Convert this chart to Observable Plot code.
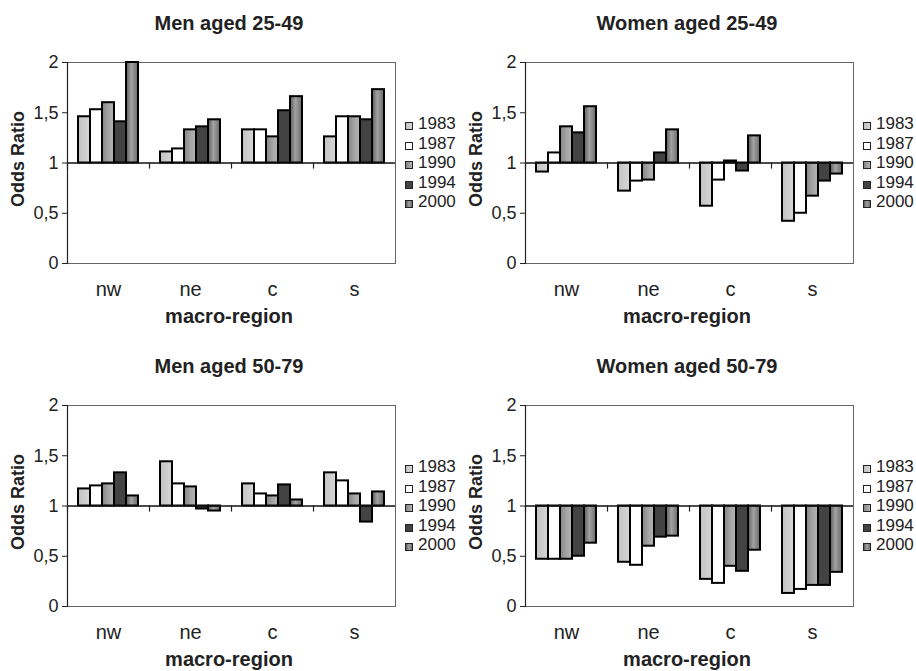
<!DOCTYPE html>
<html>
<head>
<meta charset="utf-8">
<script src="https://cdn.jsdelivr.net/npm/d3@7"></script>
<script src="https://cdn.jsdelivr.net/npm/@observablehq/plot@0.6"></script>
<style>
  body { margin: 0; background: #fff; font-family: "Liberation Sans", Arial, sans-serif; color: #222; }
  #root { position: relative; width: 916px; height: 671px; overflow: hidden; background: #fff; }
  .panel { position: absolute; width: 458px; height: 343px; }
  .title { position: absolute; left: 0; top: 13px; width: 458px; text-align: center; font-weight: bold; font-size: 20px; line-height: 20px; }
  .ylab { position: absolute; left: 18px; top: 159px; transform: translate(-50%, -50%) rotate(-90deg); font-weight: bold; font-size: 18px; line-height: 18px; white-space: nowrap; }
  .xlab { position: absolute; left: 0; top: 306px; width: 458px; text-align: center; font-weight: bold; font-size: 20px; line-height: 20px; }
  .legend { position: absolute; left: 405px; top: 114px; font-size: 17px; line-height: 19.5px; }
  .legend .row { position: relative; padding-left: 13px; white-space: nowrap; }
  .legend .sw { position: absolute; left: 0; top: 8px; width: 6px; height: 6px; border: 1px solid #222; }
</style>
</head>
<body>
<svg width="0" height="0" style="position:absolute">
  <defs>
    <linearGradient id="g1983" x1="0" x2="1" y1="0" y2="0">
      <stop offset="0" stop-color="#c2c2c2"/><stop offset="1" stop-color="#d6d6d6"/>
    </linearGradient>
    <linearGradient id="g1990" x1="0" x2="1" y1="0" y2="0">
      <stop offset="0" stop-color="#858585"/><stop offset="0.6" stop-color="#a8a8a8"/><stop offset="1" stop-color="#b4b4b4"/>
    </linearGradient>
    <linearGradient id="g2000" x1="0" x2="1" y1="0" y2="0">
      <stop offset="0" stop-color="#5c5c5c"/><stop offset="0.45" stop-color="#a2a2a2"/><stop offset="1" stop-color="#6a6a6a"/>
    </linearGradient>
  </defs>
</svg>
<div id="root"></div>
<script>
// ---- data ----
const regions = ["nw", "ne", "c", "s"];
const years = ["1983", "1987", "1990", "1994", "2000"];
const titles = ["Men aged 25-49", "Women aged 25-49", "Men aged 50-79", "Women aged 50-79"];
const yTicks = [0, 0.5, 1, 1.5, 2];
const yTickLabels = ["0", "0,5", "1", "1,5", "2"];
const yLabel = "Odds Ratio";
const xLabel = "macro-region";

// rows: nw, ne, c, s ; columns: 1983, 1987, 1990, 1994, 2000
const men2549 = [
  [1.46, 1.53, 1.60, 1.41, 2.00],
  [1.11, 1.14, 1.33, 1.36, 1.43],
  [1.33, 1.33, 1.26, 1.52, 1.66],
  [1.26, 1.46, 1.46, 1.43, 1.73]
];
const women2549 = [
  [0.91, 1.10, 1.36, 1.30, 1.56],
  [0.72, 0.82, 0.83, 1.10, 1.33],
  [0.57, 0.83, 1.02, 0.92, 1.27],
  [0.42, 0.50, 0.67, 0.82, 0.89]
];
const men5079 = [
  [1.17, 1.20, 1.22, 1.33, 1.10],
  [1.44, 1.22, 1.19, 0.97, 0.95],
  [1.22, 1.12, 1.10, 1.21, 1.06],
  [1.33, 1.25, 1.12, 0.84, 1.14]
];
const women5079 = [
  [0.47, 0.47, 0.47, 0.50, 0.63],
  [0.44, 0.41, 0.60, 0.69, 0.70],
  [0.27, 0.23, 0.40, 0.35, 0.56],
  [0.13, 0.17, 0.21, 0.21, 0.34]
];
const panelValues = [men2549, women2549, men5079, women5079];

// ---- styles ----
const fills = ["url(#g1983)", "#ffffff", "url(#g1990)", "#434343", "url(#g2000)"];
const legendFills = [
  "linear-gradient(90deg,#c2c2c2,#d6d6d6)", "#ffffff",
  "linear-gradient(90deg,#858585,#b4b4b4)", "#434343",
  "linear-gradient(90deg,#5c5c5c,#a2a2a2,#6a6a6a)"
];
const panelPos = [[0, 0], [458, 0], [0, 343], [458, 343]];
const fontFamily = "'Liberation Sans', Arial, sans-serif";

const root = document.getElementById("root");
const plotH = 201;

panelValues.forEach((values, p) => {
  const data = [];
  regions.forEach((r, ri) => years.forEach((yr, yi) => data.push({region: r, year: yr, value: values[ri][yi]})));

  const panel = document.createElement("div");
  panel.className = "panel";
  panel.style.left = panelPos[p][0] + "px";
  panel.style.top = panelPos[p][1] + "px";

  const t = document.createElement("div");
  t.className = "title"; t.textContent = titles[p];
  panel.appendChild(t);

  const chart = Plot.plot({
    width: 400,
    height: 300,
    marginLeft: 67,
    marginRight: 5,
    marginTop: 22,
    marginBottom: 77,
    style: {fontFamily, fontSize: "18px", color: "#222", background: "transparent", overflow: "visible"},
    fx: {domain: regions, padding: 0, label: null},
    x: {domain: years, paddingInner: 0, paddingOuter: 0.73, axis: null},
    y: {domain: [0, 2]},
    color: {domain: years, range: fills},
    marks: [
      Plot.frame({facet: "super", stroke: "#666", strokeWidth: 1}),
      Plot.barY(data, {fx: "region", x: "year", y1: 1, y2: "value", fill: "year", stroke: "#000", strokeWidth: 2}),
      Plot.ruleY([1], {stroke: "#111", strokeWidth: 1.6}),
      Plot.frame({anchor: "left", insetTop: plotH / 2, insetBottom: plotH / 2 - 5, stroke: "#222", strokeWidth: 1.2}),
      Plot.frame({facet: "super", anchor: "left", stroke: "#222", strokeWidth: 1.2}),
      Plot.axisY({ticks: yTicks, tickFormat: (d) => yTickLabels[yTicks.indexOf(d)], tickSize: 5, tickPadding: 4, fontSize: 18, label: null, stroke: "#222"}),
      Plot.axisFx({anchor: "bottom", tickSize: 0, tickPadding: 18, fontSize: 20, label: null})
    ]
  });
  chart.style.position = "absolute";
  chart.style.left = "0px";
  chart.style.top = "40px";
  panel.appendChild(chart);

  const yl = document.createElement("div");
  yl.className = "ylab"; yl.textContent = yLabel;
  panel.appendChild(yl);

  const xl = document.createElement("div");
  xl.className = "xlab"; xl.textContent = xLabel;
  panel.appendChild(xl);

  const lg = document.createElement("div");
  lg.className = "legend";
  years.forEach((yr, i) => {
    const row = document.createElement("div");
    row.className = "row";
    const sw = document.createElement("span");
    sw.className = "sw";
    sw.style.background = legendFills[i];
    row.appendChild(sw);
    row.appendChild(document.createTextNode(yr));
    lg.appendChild(row);
  });
  panel.appendChild(lg);

  root.appendChild(panel);
});
</script>
</body>
</html>
